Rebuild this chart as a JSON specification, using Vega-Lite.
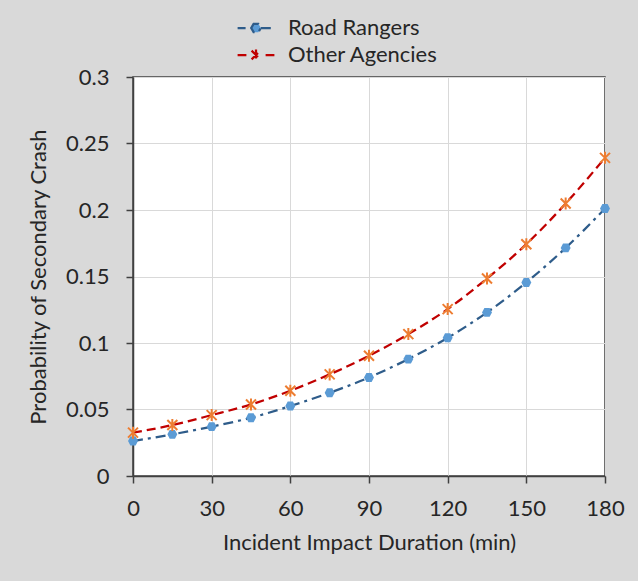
{
  "$schema": "https://vega.github.io/schema/vega-lite/v6.json",
  "width": 472,
  "height": 399,
  "autosize": {"type": "none"},
  "padding": {"left": 133, "top": 77, "right": 33, "bottom": 105},
  "background": "#d9d9d9",
  "config": {
    "font": "Lato",
    "view": {"fill": "white", "stroke": "#404040", "strokeWidth": 1.5}
  },
  "data": {
    "values": [
      {"t": 0, "series": "Road Rangers", "p": 0.0263},
      {"t": 15, "series": "Road Rangers", "p": 0.0313},
      {"t": 30, "series": "Road Rangers", "p": 0.0371},
      {"t": 45, "series": "Road Rangers", "p": 0.0438},
      {"t": 60, "series": "Road Rangers", "p": 0.0526},
      {"t": 75, "series": "Road Rangers", "p": 0.0626},
      {"t": 90, "series": "Road Rangers", "p": 0.0741},
      {"t": 105, "series": "Road Rangers", "p": 0.0879},
      {"t": 120, "series": "Road Rangers", "p": 0.1039},
      {"t": 135, "series": "Road Rangers", "p": 0.123},
      {"t": 150, "series": "Road Rangers", "p": 0.1455},
      {"t": 165, "series": "Road Rangers", "p": 0.1715},
      {"t": 180, "series": "Road Rangers", "p": 0.2011},
      {"t": 0, "series": "Other Agencies", "p": 0.0326},
      {"t": 15, "series": "Other Agencies", "p": 0.0383},
      {"t": 30, "series": "Other Agencies", "p": 0.0458},
      {"t": 45, "series": "Other Agencies", "p": 0.0538},
      {"t": 60, "series": "Other Agencies", "p": 0.0641},
      {"t": 75, "series": "Other Agencies", "p": 0.0764},
      {"t": 90, "series": "Other Agencies", "p": 0.0904},
      {"t": 105, "series": "Other Agencies", "p": 0.1067},
      {"t": 120, "series": "Other Agencies", "p": 0.1255},
      {"t": 135, "series": "Other Agencies", "p": 0.1485},
      {"t": 150, "series": "Other Agencies", "p": 0.1743},
      {"t": 165, "series": "Other Agencies", "p": 0.2049},
      {"t": 180, "series": "Other Agencies", "p": 0.2392}
    ]
  },
  "encoding": {
    "x": {
      "field": "t", "type": "quantitative",
      "scale": {"domain": [0, 180], "nice": false},
      "title": "Incident Impact Duration (min)",
      "axis": {
        "values": [0, 30, 60, 90, 120, 150, 180],
        "grid": true, "gridColor": "#d9d9d9", "gridWidth": 1,
        "domainColor": "#404040", "domainWidth": 1.5,
        "tickColor": "#404040", "tickSize": 7, "tickWidth": 1.5,
        "labelFontSize": 22, "labelColor": "#262626", "labelPadding": 15, "labelFlush": false,
        "titleFontSize": 22, "titleFontWeight": "normal", "titleColor": "#262626", "titlePadding": 13
      }
    },
    "y": {
      "field": "p", "type": "quantitative",
      "scale": {"domain": [0, 0.3], "nice": false},
      "title": "Probability of Secondary Crash",
      "axis": {
        "values": [0, 0.05, 0.1, 0.15, 0.2, 0.25, 0.3],
        "format": ".2~f",
        "grid": true, "gridColor": "#d9d9d9", "gridWidth": 1,
        "domainColor": "#404040", "domainWidth": 1.5,
        "tickColor": "#404040", "tickSize": 7, "tickWidth": 1.5,
        "labelFontSize": 22, "labelColor": "#262626", "labelPadding": 17,
        "titleFontSize": 22, "titleFontWeight": "normal", "titleColor": "#262626", "titlePadding": 15
      }
    }
  },
  "layer": [
    {
      "mark": {"type": "line", "interpolate": "monotone", "strokeWidth": 2.25},
      "encoding": {
        "color": {
          "field": "series", "type": "nominal",
          "scale": {"domain": ["Road Rangers", "Other Agencies"], "range": ["#2E5C8A", "#C00000"]},
          "legend": {
            "orient": "none", "legendX": 112, "legendY": -60,
            "title": null, "direction": "vertical",
            "labelFontSize": 22, "labelColor": "#262626",
            "symbolSize": 256, "labelOffset": 21, "rowPadding": 5, "padding": 0,
            "symbolStrokeWidth": 2.25,
            "encode": {
              "symbols": {
                "update": {
                  "shape": {"signal": "datum.value === 'Road Rangers' ? 'M-2.3,0H-1.3M-0.6,0L-0.3,-0.52L0.3,-0.52L0.6,0L0.3,0.52L-0.3,0.52ZM0.6,0H2.3' : 'M-2.3,0H-1.2M-0.55,-0.55L0.55,0.55M-0.55,0.55L0.55,-0.55M0,-0.7V0.7M1.2,0H2.3'"},
                  "fill": {"signal": "datum.value === 'Road Rangers' ? '#5B9BD5' : 'transparent'"},
                  "stroke": {"signal": "datum.value === 'Road Rangers' ? '#2E5C8A' : '#C00000'"},
                  "opacity": {"value": 1}
                }
              }
            }
          }
        },
        "strokeDash": {
          "field": "series", "type": "nominal",
          "scale": {"domain": ["Road Rangers", "Other Agencies"], "range": [[10, 5, 3, 5], [9, 5]]},
          "legend": null
        }
      }
    },
    {
      "transform": [{"filter": "datum.series === 'Road Rangers'"}],
      "mark": {"type": "point", "shape": "M-0.95,0L-0.5,-0.85L0.5,-0.85L0.95,0L0.5,0.85L-0.5,0.85Z", "filled": true, "color": "#5B9BD5", "size": 110, "opacity": 1}
    },
    {
      "transform": [{"filter": "datum.series === 'Other Agencies'"}],
      "mark": {"type": "point", "shape": "M-1,-1L1,1M-1,1L1,-1M0,-1.2L0,1.2", "filled": false, "stroke": "#ED7D31", "strokeWidth": 2, "size": 100, "opacity": 1}
    }
  ]
}
